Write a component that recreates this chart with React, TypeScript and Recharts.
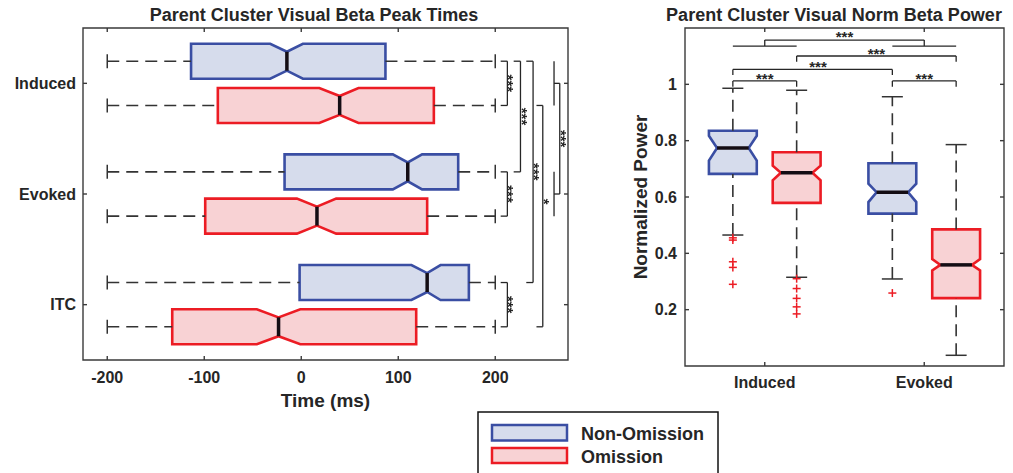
import { ComposedChart, XAxis, YAxis, ReferenceArea, ReferenceLine, ReferenceDot, Scatter } from 'recharts';

const FONT = '"Liberation Sans", Arial, Helvetica, sans-serif';
const INK = '#262626';
const AXIS = '#3a3a3a';
const BLUE = '#3a4ea3';
const BLUE_FILL = '#d6dcec';
const RED = '#ec1c24';
const RED_FILL = '#f8d2d4';

// ---- Beta peak times (ms), one entry per category ----
const timeCategories = ['Induced', 'Evoked', 'ITC'];
const timeTicks = [-200, -100, 0, 100, 200];

const timeNonOmQ1 = [-113.6, -17.2, -1.7];
const timeNonOmMed = [-14.8, 109.8, 129.8];
const timeNonOmQ3 = [86.8, 161.8, 172.8];
const timeNonOmNotchLo = [-32, 94.4, 113.6];
const timeNonOmNotchHi = [1.7, 124.6, 143.6];
const timeNonOmWhiskLo = [-200, -200, -200];
const timeNonOmWhiskHi = [200, 200, 200];

const timeOmQ1 = [-86, -99, -133];
const timeOmMed = [39.6, 16.2, -23.4];
const timeOmQ3 = [136.7, 129.8, 118.5];
const timeOmNotchLo = [18.6, -4.5, -45.8];
const timeOmNotchHi = [59, 36, -1];
const timeOmWhiskLo = [-200, -200, -200];
const timeOmWhiskHi = [200, 200, 200];

// significance between boxes: [cat a, group a, cat b, group b, stars]; group 0 = non-omission, 1 = omission
const timeSig: [number, number, number, number, string][] = [
  [0, 0, 0, 1, '***'],
  [1, 0, 1, 1, '***'],
  [2, 0, 2, 1, '***'],
  [0, 0, 1, 0, '***'],
  [0, 0, 2, 0, '***'],
  [0, 1, 2, 1, '*'],
];
// Induced vs Evoked (groups pooled)
const timeGroupSig: [number, number, string] = [0, 1, '***'];

// ---- Normalized beta power ----
const powerCategories = ['Induced', 'Evoked'];
const powerTicks = [0.2, 0.4, 0.6, 0.8, 1];

const powerNonOmQ1 = [0.682, 0.541];
const powerNonOmMed = [0.774, 0.617];
const powerNonOmQ3 = [0.835, 0.72];
const powerNonOmNotchLo = [0.729, 0.582];
const powerNonOmNotchHi = [0.8175, 0.647];
const powerNonOmWhiskLo = [0.465, 0.309];
const powerNonOmWhiskHi = [0.986, 0.956];
const powerNonOmOutliers = [[0.455, 0.447, 0.37, 0.35, 0.29], [0.259]];

const powerOmQ1 = [0.579, 0.241];
const powerOmMed = [0.686, 0.359];
const powerOmQ3 = [0.759, 0.485];
const powerOmNotchLo = [0.659, 0.339];
const powerOmNotchHi = [0.711, 0.38];
const powerOmWhiskLo = [0.315, 0.038];
const powerOmWhiskHi = [0.979, 0.786];
const powerOmOutliers = [[0.31, 0.275, 0.24, 0.21, 0.185], []];

const powerSig: [number, number, number, number, string][] = [
  [0, 0, 0, 1, '***'],
  [1, 0, 1, 1, '***'],
  [0, 0, 1, 0, '***'],
  [0, 1, 1, 1, '***'],
];
const powerGroupSig: [number, number, string] = [0, 1, '***'];

type Box = { q1: number; med: number; q3: number; nLo: number; nHi: number; wLo: number; wHi: number };

const makeBoxes = (q1: number[], med: number[], q3: number[], nLo: number[], nHi: number[], wLo: number[], wHi: number[]): Box[] =>
  q1.map((_, i) => ({ q1: q1[i], med: med[i], q3: q3[i], nLo: nLo[i], nHi: nHi[i], wLo: wLo[i], wHi: wHi[i] }));

const timeBoxes = [
  makeBoxes(timeNonOmQ1, timeNonOmMed, timeNonOmQ3, timeNonOmNotchLo, timeNonOmNotchHi, timeNonOmWhiskLo, timeNonOmWhiskHi),
  makeBoxes(timeOmQ1, timeOmMed, timeOmQ3, timeOmNotchLo, timeOmNotchHi, timeOmWhiskLo, timeOmWhiskHi),
];
const powerBoxes = [
  makeBoxes(powerNonOmQ1, powerNonOmMed, powerNonOmQ3, powerNonOmNotchLo, powerNonOmNotchHi, powerNonOmWhiskLo, powerNonOmWhiskHi),
  makeBoxes(powerOmQ1, powerOmMed, powerOmQ3, powerOmNotchLo, powerOmNotchHi, powerOmWhiskLo, powerOmWhiskHi),
];

const strokes = [BLUE, RED];
const fills = [BLUE_FILL, RED_FILL];
const OFF = 0.2; // group offset from category centre
const pos = (ci: number, gi: number) => ci + 1 + (gi ? OFF : -OFF);

// whisker ends as points (x = value along the axis, y = box position for the time chart)
const timeCaps = timeBoxes.flatMap((boxes, gi) =>
  boxes.flatMap((b, ci) => [{ x: b.wLo, y: pos(ci, gi) }, { x: b.wHi, y: pos(ci, gi) }])
);
const powerCaps = powerBoxes.flatMap((boxes, gi) =>
  boxes.flatMap((b, ci) => [{ x: pos(ci, gi), y: b.wLo }, { x: pos(ci, gi), y: b.wHi }])
);
const powerOutliers = [powerNonOmOutliers, powerOmOutliers].flatMap((g, gi) =>
  g.flatMap((vals, ci) => vals.map((v) => ({ x: pos(ci, gi), y: v })))
);

const tickStyle = { fontSize: 16, fontWeight: 700, fill: INK, fontFamily: FONT };

// notched box lying along x (peak times)
const hBox = (b: Box, gi: number) => (p: any) => {
  const { x, y, width: w, height: h } = p;
  const px = (v: number) => x + ((v - b.q1) / (b.q3 - b.q1)) * w;
  const d = h * 0.23;
  const lo = px(b.nLo), hi = px(b.nHi), m = px(b.med);
  const pts = [[x, y], [lo, y], [m, y + d], [hi, y], [x + w, y], [x + w, y + h], [hi, y + h], [m, y + h - d], [lo, y + h], [x, y + h]];
  return (
    <g>
      <polygon points={pts.map((q) => q.join(',')).join(' ')} fill={fills[gi]} stroke={strokes[gi]} strokeWidth={2.6} />
      <line x1={m} x2={m} y1={y + d} y2={y + h - d} stroke="#140d14" strokeWidth={3.5} />
    </g>
  );
};

// notched box standing along y (power)
const vBox = (b: Box, gi: number) => (p: any) => {
  const { x, y, width: w, height: h } = p;
  const py = (v: number) => y + ((b.q3 - v) / (b.q3 - b.q1)) * h;
  const d = w * 0.17;
  const hi = py(b.nHi), lo = py(b.nLo), m = py(b.med);
  const pts = [[x, y], [x + w, y], [x + w, hi], [x + w - d, m], [x + w, lo], [x + w, y + h], [x, y + h], [x, lo], [x + d, m], [x, hi]];
  return (
    <g>
      <polygon points={pts.map((q) => q.join(',')).join(' ')} fill={fills[gi]} stroke={strokes[gi]} strokeWidth={2.6} />
      <line x1={x + d} x2={x + w - d} y1={m} y2={m} stroke="#140d14" strokeWidth={3.5} />
    </g>
  );
};

const starText = { textAnchor: 'middle' as const, fontSize: 15, fontWeight: 700, fontFamily: FONT, fill: INK };

// horizontal star label centred on the point
const starsH = (text: string) => (p: any) => (
  <text x={p.cx} y={p.cy + 8.6} {...starText}>{text}</text>
);
// vertical star label; the grayscale filter keeps the rotated glyphs free of colour fringes
const starsV = (text: string) => (p: any) => (
  <g style={{ filter: 'grayscale(1)' }}>
    <text transform={`translate(${p.cx},${p.cy}) rotate(90)`} y={8.6} {...starText}>{text}</text>
  </g>
);

const plus = (p: any) => (
  <g stroke={RED} strokeWidth={1.5}>
    <line x1={p.cx - 4} x2={p.cx + 4} y1={p.cy} y2={p.cy} />
    <line x1={p.cx} x2={p.cx} y1={p.cy - 4} y2={p.cy + 4} />
  </g>
);
const vCap = (p: any) => <line x1={p.cx} x2={p.cx} y1={p.cy - 7} y2={p.cy + 7} stroke="#333" strokeWidth={1.5} />;
const hCap = (p: any) => <line x1={p.cx - 10.5} x2={p.cx + 10.5} y1={p.cy} y2={p.cy} stroke="#333" strokeWidth={1.5} />;

const seg = (key: string, a: [number, number], b: [number, number], extra: any = {}) => (
  <ReferenceLine key={key} segment={[{ x: a[0], y: a[1] }, { x: b[0], y: b[1] }]} stroke={INK} strokeWidth={1.3} {...extra} />
);

const DASH = { strokeDasharray: '12 7', stroke: '#333', strokeWidth: 1.6 };
const FRAME = { stroke: AXIS, strokeWidth: 1.4 };

// box frame with inward ticks on all four sides; yLo/yHi are the data values at the bottom/top edges
function frame(xd: [number, number], yLo: number, yHi: number, xt: number[], yt: number[], xLen: number, yLen: number) {
  const els: any[] = [
    <ReferenceArea key="frame" x1={xd[0]} x2={xd[1]} y1={yLo} y2={yHi} fill="none" stroke={AXIS} strokeWidth={1.4} />,
  ];
  const dir = yHi > yLo ? 1 : -1;
  xt.forEach((t, i) => {
    els.push(seg(`xb${i}`, [t, yLo], [t, yLo + dir * yLen], FRAME));
    els.push(seg(`xt${i}`, [t, yHi], [t, yHi - dir * yLen], FRAME));
  });
  yt.forEach((t, i) => {
    els.push(seg(`yl${i}`, [xd[0], t], [xd[0] + xLen, t], FRAME));
    els.push(seg(`yr${i}`, [xd[1], t], [xd[1] - xLen, t], FRAME));
  });
  return els;
}

function PeakTimes() {
  const xd: [number, number] = [-225, 275];
  const yd: [number, number] = [0.5, 3.5];
  // bracket columns in ms: [stub start, vertical, label]
  const cols = [[205.6, 212.5, 217], [205.6, 212.5, 217], [205.6, 212.5, 217], [219, 226, 231.4], [232, 239, 243.5], [242.5, 249, 253.8]];
  const labelAt = [null, null, null, null, null, 2.07];
  const grp = [260.6, 266.5, 271.7];
  // reversed y: the bottom edge is the larger value
  const els: any[] = frame(xd, yd[1], yd[0], timeTicks, [1, 2, 3], 4.1, 0.036);
  timeBoxes.forEach((boxes, gi) =>
    boxes.forEach((b, ci) => {
      const y = pos(ci, gi);
      els.push(seg(`wl${gi}${ci}`, [b.wLo, y], [b.q1, y], DASH));
      els.push(seg(`wh${gi}${ci}`, [b.q3, y], [b.wHi, y], DASH));
      els.push(<ReferenceArea key={`b${gi}${ci}`} x1={b.q1} x2={b.q3} y1={y - 0.158} y2={y + 0.158} shape={hBox(b, gi)} />);
    })
  );
  timeSig.forEach(([ca, ga, cb, gb, s], i) => {
    const [xs, xv, xl] = cols[i];
    const ya = pos(ca, ga), yb = pos(cb, gb);
    els.push(seg(`sa${i}`, [xs, ya], [xv, ya]));
    els.push(seg(`sv${i}`, [xv, ya], [xv, yb]));
    els.push(seg(`sb${i}`, [xs, yb], [xv, yb]));
    els.push(<ReferenceDot key={`sl${i}`} x={xl} y={labelAt[i] ?? (ya + yb) / 2} shape={starsV(s)} />);
  });
  {
    const [ca, cb, s] = timeGroupSig;
    [ca, cb].forEach((c, k) => {
      els.push(seg(`gp${k}`, [grp[0], pos(c, 0)], [grp[0], pos(c, 1)]));
      els.push(seg(`gs${k}`, [grp[0], c + 1], [grp[1], c + 1]));
    });
    els.push(seg('gv', [grp[1], ca + 1], [grp[1], cb + 1]));
    els.push(<ReferenceDot key="gl" x={grp[2]} y={(ca + cb) / 2 + 1} shape={starsV(s)} />);
  }
  return (
    <ComposedChart width={580} height={420} margin={{ top: 28, right: 12, bottom: 0, left: 0 }} data={timeCaps}>
      <XAxis dataKey="x" type="number" domain={xd} ticks={timeTicks} allowDataOverflow height={60} axisLine={false} tickLine={false} tickSize={0} tickMargin={12} tick={tickStyle} />
      <YAxis dataKey="y" type="number" domain={yd} ticks={[1, 2, 3]} reversed allowDataOverflow width={83} axisLine={false} tickLine={false} tickSize={0} tickMargin={7} tick={tickStyle} tickFormatter={(v) => timeCategories[v - 1]} />
      {els}
      <Scatter data={timeCaps} dataKey="y" shape={vCap} isAnimationActive={false} />
    </ComposedChart>
  );
}

function BetaPower() {
  const xd: [number, number] = [0.5, 2.5];
  const yd: [number, number] = [0, 1.2];
  const els: any[] = frame(xd, yd[0], yd[1], [1, 2], powerTicks, 0.025, 0.0142);
  powerBoxes.forEach((boxes, gi) =>
    boxes.forEach((b, ci) => {
      const x = pos(ci, gi);
      els.push(seg(`wl${gi}${ci}`, [x, b.wLo], [x, b.q1], DASH));
      els.push(seg(`wh${gi}${ci}`, [x, b.q3], [x, b.wHi], DASH));
      els.push(<ReferenceArea key={`b${gi}${ci}`} x1={x - 0.15} x2={x + 0.15} y1={b.q1} y2={b.q3} shape={vBox(b, gi)} />);
    })
  );
  // bracket heights: [top, foot, label x, label y]
  const rows = [[1.012, 0.991, 1.0, 1.03], [1.012, 0.991, 2.0, 1.03], [1.053, 1.033, 1.334, 1.076], [1.1006, 1.08, 1.7, 1.119]];
  powerSig.forEach(([ca, ga, cb, gb, s], i) => {
    const [top, foot, lx, ly] = rows[i];
    const xa = pos(ca, ga), xb = pos(cb, gb);
    els.push(seg(`sa${i}`, [xa, foot], [xa, top]));
    els.push(seg(`st${i}`, [xa, top], [xb, top]));
    els.push(seg(`sb${i}`, [xb, foot], [xb, top]));
    els.push(<ReferenceDot key={`sl${i}`} x={lx} y={ly} shape={starsH(s)} />);
  });
  {
    const [ca, cb, s] = powerGroupSig;
    [ca, cb].forEach((c, k) => {
      els.push(seg(`gp${k}`, [pos(c, 0), 1.136], [pos(c, 1), 1.136]));
      els.push(seg(`gs${k}`, [c + 1, 1.136], [c + 1, 1.157]));
    });
    els.push(seg('gh', [ca + 1, 1.157], [cb + 1, 1.157]));
    els.push(<ReferenceDot key="gl" x={(ca + cb) / 2 + 1} y={1.182} shape={starsH(s)} />);
  }
  return (
    <ComposedChart width={413} height={416} margin={{ top: 28, right: 9, bottom: 0, left: 0 }} data={powerCaps}>
      <XAxis dataKey="x" type="number" domain={xd} ticks={[1, 2]} allowDataOverflow height={50} axisLine={false} tickLine={false} tickSize={0} tickMargin={11} tick={tickStyle} tickFormatter={(v) => powerCategories[v - 1]} />
      <YAxis dataKey="y" type="number" domain={yd} ticks={powerTicks} allowDataOverflow width={85} axisLine={false} tickLine={false} tickSize={0} tickMargin={8} tick={tickStyle} />
      {els}
      <Scatter data={powerCaps} dataKey="y" shape={hCap} isAnimationActive={false} />
      <Scatter data={powerOutliers} dataKey="y" shape={plus} isAnimationActive={false} />
    </ComposedChart>
  );
}

export default function App() {
  const title = { fontSize: 18, fontWeight: 700, fill: INK, fontFamily: FONT, textAnchor: 'middle' as const };
  const axisTitle = { fontSize: 19, fontWeight: 700, fill: INK, fontFamily: FONT, textAnchor: 'middle' as const };
  const legendText = { fontSize: 18, fontWeight: 700, fill: INK, fontFamily: FONT };
  return (
    <div style={{ position: 'absolute', left: 0, top: 0, width: 1013, height: 473, background: '#fff', overflow: 'hidden' }}>
      <div style={{ position: 'absolute', left: 0, top: 0 }}>
        <PeakTimes />
      </div>
      <div style={{ position: 'absolute', left: 600, top: 0 }}>
        <BetaPower />
      </div>
      <svg width={1013} height={473} style={{ position: 'absolute', left: 0, top: 0, pointerEvents: 'none' }}>
        <text x={314} y={20.5} {...title}>Parent Cluster Visual Beta Peak Times</text>
        <text x={834} y={20.5} {...title}>Parent Cluster Visual Norm Beta Power</text>
        <text x={325.5} y={407} {...axisTitle}>Time (ms)</text>
        <text transform="translate(646.5,197) rotate(-90)" {...axisTitle}>Normalized Power</text>
        <rect x={478} y={412} width={240} height={80} fill="#fff" stroke="#111" strokeWidth={1.5} />
        <rect x={492} y={425} width={75} height={15.5} fill={BLUE_FILL} stroke={BLUE} strokeWidth={2.5} />
        <rect x={492} y={448} width={75} height={15} fill={RED_FILL} stroke={RED} strokeWidth={2.5} />
        <text x={581} y={439.5} {...legendText}>Non-Omission</text>
        <text x={581} y={462.7} {...legendText}>Omission</text>
      </svg>
    </div>
  );
}
